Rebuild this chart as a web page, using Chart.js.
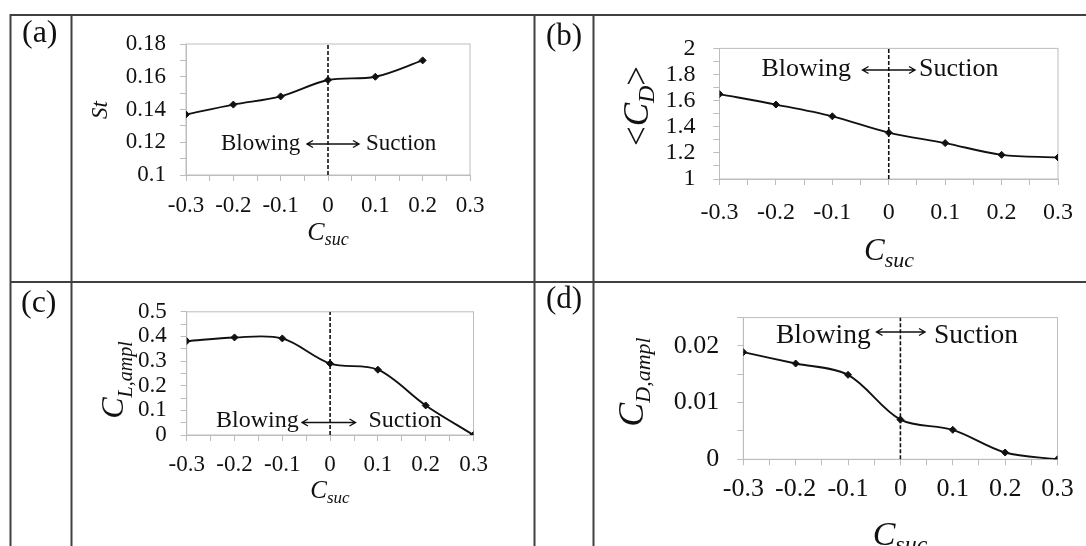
<!DOCTYPE html>
<html lang="en">
<head>
<meta charset="UTF-8">
<title>Blowing / suction: St, mean drag and force amplitudes vs C_suc</title>
<script src="https://cdn.jsdelivr.net/npm/chart.js"></script>
<style>
  html, body { margin: 0; padding: 0; }
  body { width: 1086px; height: 546px; overflow: hidden; background: #fff; position: relative; }
  .panel { position: absolute; }
  .panel canvas { display: block; }
  #overlay { position: absolute; left: 0; top: 0; pointer-events: none; }
  #overlay text { font-family: 'Liberation Serif', 'Times New Roman', serif; fill: #111; }
</style>
</head>
<body>

<div class="panel" style="left:80px; top:16px;"><canvas id="chartA" width="430" height="250"></canvas></div>
<div class="panel" style="left:600px; top:16px;"><canvas id="chartB" width="486" height="250"></canvas></div>
<div class="panel" style="left:80px; top:284px;"><canvas id="chartC" width="430" height="260"></canvas></div>
<div class="panel" style="left:600px; top:284px;"><canvas id="chartD" width="486" height="262"></canvas></div>

<svg id="overlay" width="1086" height="546">
  <!-- table grid -->
  <g stroke="#404040" stroke-width="2">
    <line x1="10" y1="15" x2="1086" y2="15"/>
    <line x1="10" y1="282" x2="1086" y2="282"/>
    <line x1="10.5" y1="14" x2="10.5" y2="546"/>
    <line x1="71.5" y1="14" x2="71.5" y2="546"/>
    <line x1="534.5" y1="14" x2="534.5" y2="546"/>
    <line x1="593.5" y1="14" x2="593.5" y2="546"/>
  </g>

  <!-- panel letters -->
  <text x="22" y="42" font-size="32">(a)</text>
  <text x="546" y="45" font-size="31">(b)</text>
  <text x="21" y="312" font-size="32">(c)</text>
  <text x="546" y="308" font-size="31">(d)</text>

  <!-- (a) titles -->
  <text transform="translate(106.5,110) rotate(-90)" text-anchor="middle" font-size="23" font-style="italic">St</text>
  <text x="328" y="240" text-anchor="middle" font-style="italic"><tspan font-size="26">C</tspan><tspan font-size="18" dy="5">suc</tspan></text>

  <!-- (b) titles -->
  <text transform="translate(648,106) rotate(-90)" text-anchor="middle" font-size="35">&lt;<tspan font-style="italic">C</tspan><tspan font-style="italic" font-size="24" dy="6">D</tspan><tspan dy="-6">&gt;</tspan></text>
  <text x="889" y="260" text-anchor="middle" font-style="italic"><tspan font-size="31">C</tspan><tspan font-size="22" dy="7">suc</tspan></text>

  <!-- (c) titles -->
  <text transform="translate(123,380) rotate(-90)" text-anchor="middle" font-style="italic"><tspan font-size="32">C</tspan><tspan font-size="20" dy="9">L,ampl</tspan></text>
  <text x="330" y="498" text-anchor="middle" font-style="italic"><tspan font-size="25">C</tspan><tspan font-size="17" dy="5">suc</tspan></text>

  <!-- (d) titles -->
  <text transform="translate(643,382) rotate(-90)" text-anchor="middle" font-style="italic"><tspan font-size="36">C</tspan><tspan font-size="22" dy="7">D,ampl</tspan></text>
  <text x="900" y="545" text-anchor="middle" font-style="italic"><tspan font-size="34">C</tspan><tspan font-size="24" dy="7">suc</tspan></text>

  <!-- blowing / suction annotations -->
  <g id="notes"></g>
</svg>

<script>
// C_suc positions shared by every panel
const cSuc = [-0.3, -0.2, -0.1, 0, 0.1, 0.2, 0.3];

// measured series
const strouhal = [0.137, 0.143, 0.148, 0.158, 0.160, 0.170];
const meanDrag = [1.65, 1.57, 1.48, 1.355, 1.275, 1.185, 1.165];
const liftAmpl = [0.381, 0.396, 0.392, 0.290, 0.265, 0.120, 0];
const dragAmpl = [0.0189, 0.0169, 0.0149, 0.0070, 0.0052, 0.0012, 0];

// axis ticks (major ones get a label, minor ones only a tick mark)
const xMajor = [-0.3, -0.2, -0.1, 0, 0.1, 0.2, 0.3];
const xMinor = [-0.25, -0.15, -0.05, 0.05, 0.15, 0.25];
const stMajor = [0.1, 0.12, 0.14, 0.16, 0.18];
const stMinor = [0.11, 0.13, 0.15, 0.17];
const cdMajor = [1, 1.2, 1.4, 1.6, 1.8, 2];
const cdMinor = [1.1, 1.3, 1.5, 1.7, 1.9];
const clMajor = [0, 0.1, 0.2, 0.3, 0.4, 0.5];
const clMinor = [0.05, 0.15, 0.25, 0.35, 0.45];
const cdaMajor = [0, 0.01, 0.02];
const cdaMinor = [0.005, 0.015, 0.025];

const SERIF = "'Liberation Serif', 'Times New Roman', serif";
const INK = '#111';
const AXIS_GREY = '#bdbdbd';

// light grey box around the plotting area
const plotFrame = {
  id: 'plotFrame',
  beforeDatasetsDraw(chart) {
    const { ctx, chartArea: a } = chart;
    ctx.save();
    ctx.strokeStyle = AXIS_GREY;
    ctx.lineWidth = 1;
    ctx.strokeRect(a.left, a.top, a.right - a.left, a.bottom - a.top);
    ctx.restore();
  }
};

function axisTicks(major, minor, fontSize, padding) {
  const all = major.concat(minor).sort((a, b) => a - b);
  return {
    afterBuildTicks: (scale) => { scale.ticks = all.map(v => ({ value: v })); },
    ticks: {
      autoSkip: false, maxRotation: 0, minRotation: 0,
      padding: padding, color: INK,
      font: { family: SERIF, size: fontSize },
      callback: (v) => major.includes(v) ? String(v) : ''
    },
    grid: { display: true, drawOnChartArea: false, drawTicks: true, tickLength: 6, tickColor: AXIS_GREY, tickWidth: 1 },
    border: { display: true, color: AXIS_GREY, width: 1 }
  };
}

function makePanel(id, p) {
  const yMin = p.yTicks[0];
  const yMax = Math.max(...p.yTicks.concat(p.yMinor));
  const points = p.values.map((v, i) => ({ x: cSuc[i], y: v }));
  return new Chart(document.getElementById(id), {
    type: 'line',
    data: {
      datasets: [
        {
          data: points,
          borderColor: '#111', backgroundColor: '#111',
          borderWidth: 1.9, tension: 0.33,
          pointStyle: 'rectRot', pointRadius: 3.5, pointBorderWidth: 1
        },
        {
          // dashed divider between blowing and suction
          data: [{ x: 0, y: yMin }, { x: 0, y: yMax }],
          borderColor: '#111', borderWidth: 1.6, borderDash: [4, 2],
          pointRadius: 0, tension: 0
        }
      ]
    },
    options: {
      responsive: false,
      animation: false,
      events: [],
      layout: { padding: { left: 0, top: p.padTop, right: p.padRight, bottom: 0 } },
      plugins: { legend: { display: false }, tooltip: { enabled: false } },
      scales: {
        x: Object.assign({
          type: 'linear', min: -0.3, max: 0.3,
          afterFit: (s) => { s.height = p.xAxisHeight; }
        }, axisTicks(xMajor, xMinor, p.font, p.xPad)),
        y: Object.assign({
          type: 'linear', min: yMin, max: yMax,
          afterFit: (s) => { s.width = p.yAxisWidth; }
        }, axisTicks(p.yTicks, p.yMinor, p.font, p.yPad))
      }
    },
    plugins: [plotFrame]
  });
}

makePanel('chartA', { values: strouhal, yTicks: stMajor, yMinor: stMinor,
  font: 23, xPad: 11, yPad: 14, yAxisWidth: 106, padTop: 28, padRight: 40, xAxisHeight: 91 });
makePanel('chartB', { values: meanDrag, yTicks: cdMajor, yMinor: cdMinor,
  font: 24, xPad: 13, yPad: 18, yAxisWidth: 119.5, padTop: 20.7, padRight: 27, xAxisHeight: 87 });
makePanel('chartC', { values: liftAmpl, yTicks: clMajor, yMinor: clMinor,
  font: 23, xPad: 10, yPad: 14, yAxisWidth: 106.7, padTop: 17.7, padRight: 36.5, xAxisHeight: 109 });
makePanel('chartD', { values: dragAmpl, yTicks: cdaMajor, yMinor: cdaMinor,
  font: 26, xPad: 8, yPad: 18, yAxisWidth: 143.3, padTop: 20.3, padRight: 28.5, xAxisHeight: 86.7 });

// "Blowing <-> Suction" labels with a double-headed arrow
const notes = [
  { size: 23,   base: 150,   blowX: 221,   arrow: [307, 359],   arrowY: 144,   sucX: 366 },
  { size: 26,   base: 76,    blowX: 761.5, arrow: [862.5, 915], arrowY: 70,    sucX: 919 },
  { size: 24,   base: 427,   blowX: 216,   arrow: [302, 355.5], arrowY: 422.5, sucX: 368.5 },
  { size: 27.5, base: 342.7, blowX: 776,   arrow: [876.5, 925], arrowY: 332,   sucX: 934 }
];
const NS = 'http://www.w3.org/2000/svg';
const g = document.getElementById('notes');
function svgEl(tag, attrs, text) {
  const el = document.createElementNS(NS, tag);
  for (const k in attrs) el.setAttribute(k, attrs[k]);
  if (text) el.textContent = text;
  g.appendChild(el);
  return el;
}
notes.forEach(n => {
  svgEl('text', { x: n.blowX, y: n.base, 'font-size': n.size }, 'Blowing');
  svgEl('text', { x: n.sucX, y: n.base, 'font-size': n.size }, 'Suction');
  const [x1, x2] = n.arrow, y = n.arrowY, h = 6, w = 3.5;
  svgEl('path', {
    d: `M${x1},${y} L${x2},${y} M${x1 + h},${y - w} L${x1},${y} L${x1 + h},${y + w} M${x2 - h},${y - w} L${x2},${y} L${x2 - h},${y + w}`,
    stroke: '#111', 'stroke-width': 1.4, fill: 'none'
  });
});
</script>
</body>
</html>
